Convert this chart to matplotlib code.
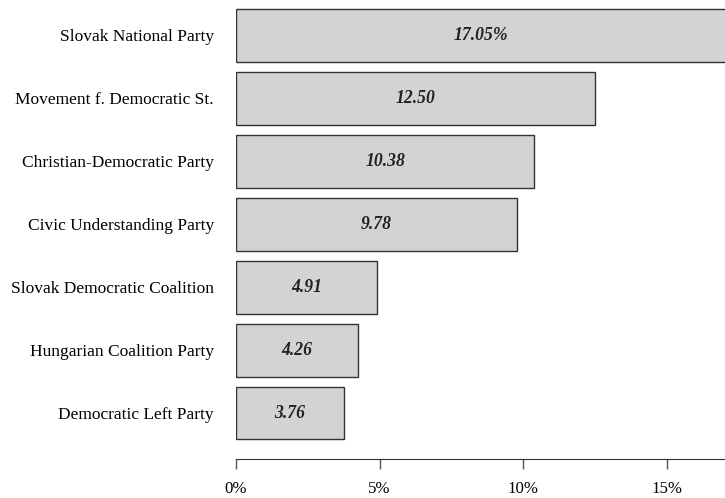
import matplotlib.pyplot as plt

parties = ["Democratic Left Party", "Hungarian Coalition Party",
           "Slovak Democratic Coalition", "Civic Understanding Party",
           "Christian-Democratic Party", "Movement f. Democratic St.",
           "Slovak National Party"]
shares = [3.76, 4.26, 4.91, 9.78, 10.38, 12.50, 17.05]
labels = ["3.76", "4.26", "4.91", "9.78", "10.38", "12.50", "17.05%"]
ticks = [0, 5, 10, 15]
tick_labels = ["0%", "5%", "10%", "15%"]

plt.rcParams["font.family"] = ["Liberation Serif", "DejaVu Serif"]

fig = plt.figure(figsize=(7.25, 4.98), dpi=100)
ax = fig.add_axes([236 / 725, 1 - 459 / 498, 1 - 236 / 725, 459 / 498])

pos = range(len(parties))
ax.barh(pos, shares, height=0.84, color="#d3d3d3", edgecolor="#333333", linewidth=1.0)

for y, v, t in zip(pos, shares, labels):
    ax.text(v / 2, y, t, ha="center", va="center", fontsize=12.7,
            fontweight="bold", fontstyle="italic", color="#222222")

ax.set_xlim(0, 17.02)
ax.set_ylim(-0.73, 6.564)
ax.set_yticks(list(pos))
ax.set_yticklabels(parties, fontsize=12.5)
ax.set_xticks(ticks)
ax.set_xticklabels(tick_labels, fontsize=12.2)

for s in ["top", "right", "left"]:
    ax.spines[s].set_visible(False)
ax.spines["bottom"].set_color("#333333")
ax.tick_params(axis="y", length=0, pad=16)
ax.tick_params(axis="x", length=7, width=1, color="#555555", pad=9)

fig.savefig("out.png", dpi=100)
